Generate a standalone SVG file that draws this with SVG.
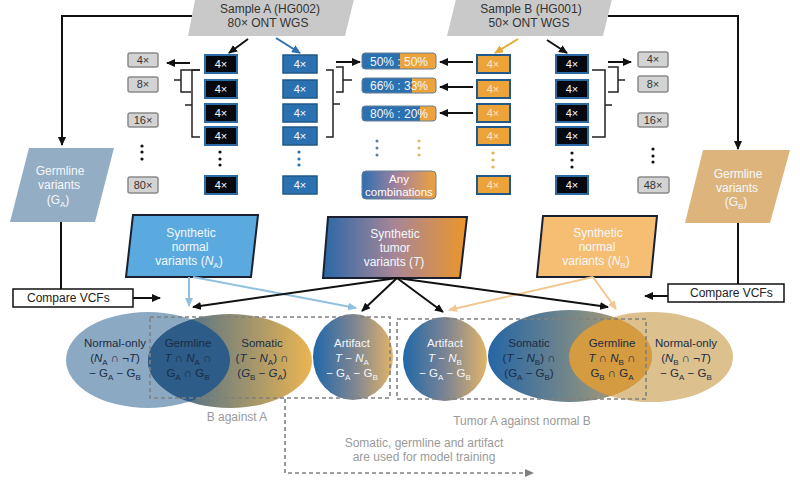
<svg xmlns="http://www.w3.org/2000/svg" width="800" height="480" viewBox="0 0 800 480">
<defs>
<style>
text{font-family:"Liberation Sans",Arial,sans-serif;}
.t12{font-size:12px;fill:#333;text-anchor:middle;}
.bx{font-size:11px;text-anchor:middle;}
.gray{fill:#d3d3d3;stroke:#8a8a8a;stroke-width:1.5;}
.blk{fill:#05080f;stroke:#2b6aa3;stroke-width:2;}
.blu{fill:#2b70b0;stroke:#1f5888;stroke-width:1.5;}
.org{fill:#eca33a;stroke:#1f5a8a;stroke-width:2;}
.ln{fill:none;stroke:#111;stroke-width:2;}
.br{fill:none;stroke:#222;stroke-width:1.5;}
.dash{fill:none;stroke:#808080;stroke-width:1.6;stroke-dasharray:4 3;}
.lt{font-size:11.5px;text-anchor:middle;fill:#1b2c45;}
.lw{font-size:11.5px;text-anchor:middle;fill:#f4f6fa;}
.wt{font-size:12px;text-anchor:middle;fill:#f4f8fc;}
.gl{font-size:12px;text-anchor:middle;fill:#9a9a9a;}
</style>
<marker id="ak" markerUnits="userSpaceOnUse" markerWidth="9" markerHeight="8" refX="8" refY="4" orient="auto"><path d="M0,0 L9,4 L0,8 z" fill="#111"/></marker>
<marker id="ab" markerUnits="userSpaceOnUse" markerWidth="9" markerHeight="8" refX="8" refY="4" orient="auto"><path d="M0,0 L9,4 L0,8 z" fill="#2b70b0"/></marker>
<marker id="ao" markerUnits="userSpaceOnUse" markerWidth="9" markerHeight="8" refX="8" refY="4" orient="auto"><path d="M0,0 L9,4 L0,8 z" fill="#e8a838"/></marker>
<marker id="alb" markerUnits="userSpaceOnUse" markerWidth="9" markerHeight="8" refX="8" refY="4" orient="auto"><path d="M0,0 L9,4 L0,8 z" fill="#8fc0e0"/></marker>
<marker id="alo" markerUnits="userSpaceOnUse" markerWidth="9" markerHeight="8" refX="8" refY="4" orient="auto"><path d="M0,0 L9,4 L0,8 z" fill="#f0c890"/></marker>
<marker id="ag" markerUnits="userSpaceOnUse" markerWidth="9" markerHeight="8" refX="8" refY="4" orient="auto"><path d="M0,0 L9,4 L0,8 z" fill="#808080"/></marker>
<linearGradient id="gT" x1="0" y1="0" x2="1" y2="0"><stop offset="0" stop-color="#2a68a8"/><stop offset="0.5" stop-color="#a88696"/><stop offset="1" stop-color="#ec9628"/></linearGradient>
<linearGradient id="gAny" x1="0" y1="0" x2="1" y2="0"><stop offset="0" stop-color="#2e6eb0"/><stop offset="0.5" stop-color="#a8849a"/><stop offset="1" stop-color="#eea23a"/></linearGradient>
<linearGradient id="gSomA" x1="0" y1="0" x2="1" y2="0"><stop offset="0" stop-color="#2a5f92"/><stop offset="0.5" stop-color="#8a8a74"/><stop offset="1" stop-color="#ebb552"/></linearGradient>
<linearGradient id="gArt" x1="0" y1="0" x2="1" y2="0"><stop offset="0" stop-color="#1f68a8"/><stop offset="0.5" stop-color="#7a8494"/><stop offset="1" stop-color="#e2b468"/></linearGradient>
<linearGradient id="gSomB" x1="0" y1="0" x2="1" y2="0"><stop offset="0" stop-color="#2566a6"/><stop offset="0.55" stop-color="#7c8a86"/><stop offset="1" stop-color="#c9a66c"/></linearGradient>
<clipPath id="cA"><ellipse cx="148" cy="360" rx="82" ry="48"/></clipPath>
<clipPath id="cB"><ellipse cx="651" cy="357" rx="82" ry="45"/></clipPath>
</defs>
<rect width="800" height="480" fill="#fff"/>

<g id="sampleA"><polygon points="196,-5 355,-5 345,36 188,36" fill="#c9c9c9"/>
<text class="t12" x="270" y="13">Sample A (HG002)</text><text class="t12" x="268" y="27">80× ONT WGS</text></g>
<g id="sampleB"><polygon points="457,-5 613,-5 603,36 447,36" fill="#c9c9c9"/>
<text class="t12" x="531" y="13">Sample B (HG001)</text><text class="t12" x="529" y="27">50× ONT WGS</text></g>

<g id="germA"><polygon points="29,148 114,148 95,222 10,222" fill="#93adc4"/>
<text class="wt" x="60" y="175">Germline</text><text class="wt" x="59" y="189">variants</text>
<text class="wt" x="58" y="204">(G<tspan font-size="8" dy="3">A</tspan><tspan dy="-3">)</tspan></text></g>
<g id="germB"><polygon points="703,150 790,150 770,223 685,223" fill="#ddb57c"/>
<text class="wt" x="738" y="178">Germline</text><text class="wt" x="737" y="192">variants</text>
<text class="wt" x="736" y="206">(G<tspan font-size="8" dy="3">B</tspan><tspan dy="-3">)</tspan></text></g>

<g id="cmpA"><rect x="13" y="289" width="120" height="18" fill="#fff" stroke="#111" stroke-width="1.5"/>
<text x="27" y="302" font-size="12" fill="#222">Compare VCFs</text></g>
<g id="cmpB"><rect x="668" y="284" width="116" height="18" fill="#fff" stroke="#111" stroke-width="1.5"/>
<text x="690" y="297" font-size="12" fill="#222">Compare VCFs</text></g>

<g id="grayA">
<rect class="gray" x="128" y="53" width="30" height="14" rx="2"/><text class="bx" x="143" y="64" fill="#333">4×</text>
<rect class="gray" x="128" y="77" width="30" height="15" rx="2"/><text class="bx" x="143" y="88" fill="#333">8×</text>
<rect class="gray" x="128" y="113" width="30" height="14" rx="2"/><text class="bx" x="143" y="124" fill="#333">16×</text>
<rect class="gray" x="128" y="177" width="30" height="16" rx="2"/><text class="bx" x="143" y="189" fill="#333">80×</text>
<g fill="#111"><circle cx="142" cy="146" r="1.6"/><circle cx="142" cy="152" r="1.6"/><circle cx="142" cy="159" r="1.6"/></g></g>

<g id="blackA">
<rect class="blk" x="205" y="55" width="32" height="18"/><text class="bx" x="221" y="68" fill="#fff">4×</text>
<rect class="blk" x="205" y="80" width="32" height="18"/><text class="bx" x="221" y="93" fill="#fff">4×</text>
<rect class="blk" x="205" y="104" width="32" height="18"/><text class="bx" x="221" y="117" fill="#fff">4×</text>
<rect class="blk" x="205" y="127" width="32" height="18"/><text class="bx" x="221" y="140" fill="#fff">4×</text>
<rect class="blk" x="205" y="176" width="32" height="18"/><text class="bx" x="221" y="189" fill="#fff">4×</text>
<g fill="#111"><circle cx="220" cy="152" r="1.6"/><circle cx="220" cy="159" r="1.6"/><circle cx="220" cy="165" r="1.6"/></g></g>

<g id="blueA">
<rect class="blu" x="283" y="55" width="34" height="18"/><text class="bx" x="300" y="68" fill="#fff">4×</text>
<rect class="blu" x="283" y="80" width="34" height="18"/><text class="bx" x="300" y="93" fill="#fff">4×</text>
<rect class="blu" x="283" y="104" width="34" height="18"/><text class="bx" x="300" y="117" fill="#fff">4×</text>
<rect class="blu" x="283" y="127" width="34" height="18"/><text class="bx" x="300" y="140" fill="#fff">4×</text>
<rect class="blu" x="283" y="176" width="34" height="18"/><text class="bx" x="300" y="189" fill="#fff">4×</text>
<g fill="#2b70b0"><circle cx="299" cy="152" r="1.6"/><circle cx="299" cy="159" r="1.6"/><circle cx="299" cy="165" r="1.6"/></g></g>

<g id="ratios">
<rect x="362" y="53" width="74" height="16" rx="3" fill="#eca33a"/><path d="M365,53 H400 V69 H365 a3,3 0 0 1 -3,-3 V56 a3,3 0 0 1 3,-3z" fill="#2b70b0"/>
<rect x="362" y="53" width="74" height="16" rx="3" fill="none" stroke="#6a7f95" stroke-width="1"/>
<text x="399" y="66" font-size="12" text-anchor="middle" fill="#f2f6fb">50% : 50%</text>
<rect x="362" y="78" width="74" height="15" rx="3" fill="#eca33a"/><path d="M365,78 H412 V93 H365 a3,3 0 0 1 -3,-3 V81 a3,3 0 0 1 3,-3z" fill="#2b70b0"/>
<rect x="362" y="78" width="74" height="15" rx="3" fill="none" stroke="#6a7f95" stroke-width="1"/>
<text x="399" y="90" font-size="12" text-anchor="middle" fill="#f2f6fb">66% : 33%</text>
<rect x="362" y="106" width="74" height="15" rx="3" fill="#eca33a"/><path d="M365,106 H420 V121 H365 a3,3 0 0 1 -3,-3 V109 a3,3 0 0 1 3,-3z" fill="#2b70b0"/>
<rect x="362" y="106" width="74" height="15" rx="3" fill="none" stroke="#6a7f95" stroke-width="1"/>
<text x="399" y="118" font-size="12" text-anchor="middle" fill="#f2f6fb">80% : 20%</text>
<g fill="#5a7ea0"><circle cx="377" cy="141" r="1.5"/><circle cx="377" cy="148" r="1.5"/><circle cx="377" cy="155" r="1.5"/></g>
<g fill="#e2b45e"><circle cx="419" cy="141" r="1.5"/><circle cx="419" cy="148" r="1.5"/><circle cx="419" cy="155" r="1.5"/></g>
<rect x="362" y="171" width="74" height="28" rx="4" fill="url(#gAny)" stroke="#6a7f95" stroke-width="1"/>
<text x="399" y="183" font-size="11.5" text-anchor="middle" fill="#fff">Any</text>
<text x="399" y="196" font-size="11.5" text-anchor="middle" fill="#fff">combinations</text></g>

<g id="orangeB">
<rect class="org" x="477" y="55" width="33" height="18"/><text class="bx" x="493" y="68" fill="#fde6c4">4×</text>
<rect class="org" x="477" y="80" width="33" height="18"/><text class="bx" x="493" y="93" fill="#fde6c4">4×</text>
<rect class="org" x="477" y="104" width="33" height="18"/><text class="bx" x="493" y="117" fill="#fde6c4">4×</text>
<rect class="org" x="477" y="127" width="33" height="18"/><text class="bx" x="493" y="140" fill="#fde6c4">4×</text>
<rect class="org" x="477" y="176" width="33" height="18"/><text class="bx" x="493" y="189" fill="#fde6c4">4×</text>
<g fill="#e8b04e"><circle cx="493" cy="153" r="1.6"/><circle cx="493" cy="160" r="1.6"/><circle cx="493" cy="167" r="1.6"/></g></g>

<g id="blackB">
<rect class="blk" x="556" y="55" width="32" height="18"/><text class="bx" x="572" y="68" fill="#fff">4×</text>
<rect class="blk" x="556" y="80" width="32" height="18"/><text class="bx" x="572" y="93" fill="#fff">4×</text>
<rect class="blk" x="556" y="104" width="32" height="18"/><text class="bx" x="572" y="117" fill="#fff">4×</text>
<rect class="blk" x="556" y="127" width="32" height="18"/><text class="bx" x="572" y="140" fill="#fff">4×</text>
<rect class="blk" x="556" y="176" width="32" height="18"/><text class="bx" x="572" y="189" fill="#fff">4×</text>
<g fill="#111"><circle cx="572" cy="153" r="1.6"/><circle cx="572" cy="160" r="1.6"/><circle cx="572" cy="167" r="1.6"/></g></g>

<g id="grayB">
<rect class="gray" x="638" y="52" width="30" height="15" rx="2"/><text class="bx" x="653" y="63" fill="#333">4×</text>
<rect class="gray" x="638" y="76" width="30" height="16" rx="2"/><text class="bx" x="653" y="88" fill="#333">8×</text>
<rect class="gray" x="638" y="113" width="30" height="14" rx="2"/><text class="bx" x="653" y="124" fill="#333">16×</text>
<rect class="gray" x="638" y="177" width="31" height="16" rx="2"/><text class="bx" x="653" y="189" fill="#333">48×</text>
<g fill="#111"><circle cx="653" cy="149" r="1.6"/><circle cx="653" cy="156" r="1.6"/><circle cx="653" cy="162" r="1.6"/></g></g>

<g id="synNA"><polygon points="133,215 258,215 251,277 126,277" fill="#5aaae0" stroke="#1a2030" stroke-width="2"/>
<text class="wt" x="191" y="237">Synthetic</text><text class="wt" x="190" y="251">normal</text>
<text class="wt" x="189" y="265">variants (<tspan font-style="italic">N</tspan><tspan font-size="8" dy="3">A</tspan><tspan dy="-3">)</tspan></text></g>
<g id="synT"><polygon points="328,217 467,217 460,278 323,278" fill="url(#gT)" stroke="#1a2030" stroke-width="2"/>
<text class="wt" x="395" y="238">Synthetic</text><text class="wt" x="395" y="252">tumor</text>
<text class="wt" x="394" y="266">variants (<tspan font-style="italic">T</tspan>)</text></g>
<g id="synNB"><polygon points="543,216 657,216 651,277 537,277" fill="#f6be72" stroke="#1a2030" stroke-width="2"/>
<text class="wt" x="598" y="237">Synthetic</text><text class="wt" x="597" y="251">normal</text>
<text class="wt" x="596" y="265">variants (<tspan font-style="italic">N</tspan><tspan font-size="8" dy="3">B</tspan><tspan dy="-3">)</tspan></text></g>

<g id="vennA">
<ellipse cx="148" cy="360" rx="82" ry="48" fill="#8ba9c2"/>
<ellipse cx="230" cy="361" rx="82" ry="47" fill="url(#gSomA)"/>
<ellipse cx="230" cy="361" rx="82" ry="47" fill="#2c5c87" clip-path="url(#cA)"/>
<ellipse cx="353" cy="357" rx="40" ry="43" fill="url(#gArt)"/>
<text class="lt" x="115" y="347">Normal-only</text>
<text class="lt" x="115" y="362">(<tspan font-style="italic">N</tspan><tspan font-size="8" dy="3">A</tspan><tspan dy="-3"> ∩ ¬</tspan><tspan font-style="italic">T</tspan>)</text>
<text class="lt" x="115" y="377">− G<tspan font-size="8" dy="3">A</tspan><tspan dy="-3"> − G</tspan><tspan font-size="8" dy="3">B</tspan></text>
<text class="lt" x="188" y="347">Germline</text>
<text class="lt" x="188" y="362"><tspan font-style="italic">T</tspan> ∩ <tspan font-style="italic">N</tspan><tspan font-size="8" dy="3">A</tspan><tspan dy="-3"> ∩</tspan></text>
<text class="lt" x="188" y="377">G<tspan font-size="8" dy="3">A</tspan><tspan dy="-3"> ∩ G</tspan><tspan font-size="8" dy="3">B</tspan></text>
<text class="lt" x="262" y="347">Somatic</text>
<text class="lt" x="262" y="362">(<tspan font-style="italic">T</tspan> − <tspan font-style="italic">N</tspan><tspan font-size="8" dy="3">A</tspan><tspan dy="-3">) ∩</tspan></text>
<text class="lt" x="262" y="377">(<tspan font-style="italic">G</tspan><tspan font-size="8" dy="3">B</tspan><tspan dy="-3"> − </tspan><tspan font-style="italic">G</tspan><tspan font-size="8" dy="3">A</tspan><tspan dy="-3">)</tspan></text>
<text class="lw" x="352" y="347">Artifact</text>
<text class="lw" x="352" y="362"><tspan font-style="italic">T</tspan> − <tspan font-style="italic">N</tspan><tspan font-size="8" dy="3">A</tspan></text>
<text class="lw" x="352" y="377">− G<tspan font-size="8" dy="3">A</tspan><tspan dy="-3"> − G</tspan><tspan font-size="8" dy="3">B</tspan></text>
</g>

<g id="vennB">
<ellipse cx="445" cy="359" rx="42" ry="42" fill="url(#gArt)"/>
<ellipse cx="651" cy="357" rx="82" ry="45" fill="#dcc08e"/>
<ellipse cx="570" cy="356" rx="82" ry="46" fill="url(#gSomB)"/>
<ellipse cx="570" cy="356" rx="82" ry="46" fill="#d49b40" clip-path="url(#cB)"/>
<text class="lw" x="445" y="347">Artifact</text>
<text class="lw" x="445" y="362"><tspan font-style="italic">T</tspan> − <tspan font-style="italic">N</tspan><tspan font-size="8" dy="3">B</tspan></text>
<text class="lw" x="445" y="377">− G<tspan font-size="8" dy="3">A</tspan><tspan dy="-3"> − G</tspan><tspan font-size="8" dy="3">B</tspan></text>
<text class="lt" x="529" y="347">Somatic</text>
<text class="lt" x="529" y="362">(<tspan font-style="italic">T</tspan> − <tspan font-style="italic">N</tspan><tspan font-size="8" dy="3">B</tspan><tspan dy="-3">) ∩</tspan></text>
<text class="lt" x="529" y="377">(G<tspan font-size="8" dy="3">A</tspan><tspan dy="-3"> − G</tspan><tspan font-size="8" dy="3">B</tspan><tspan dy="-3">)</tspan></text>
<text class="lt" x="612" y="347">Germline</text>
<text class="lt" x="612" y="362"><tspan font-style="italic">T</tspan> ∩ <tspan font-style="italic">N</tspan><tspan font-size="8" dy="3">B</tspan><tspan dy="-3"> ∩</tspan></text>
<text class="lt" x="612" y="377">G<tspan font-size="8" dy="3">B</tspan><tspan dy="-3"> ∩ G</tspan><tspan font-size="8" dy="3">A</tspan></text>
<text class="lt" x="686" y="347">Normal-only</text>
<text class="lt" x="686" y="362">(<tspan font-style="italic">N</tspan><tspan font-size="8" dy="3">B</tspan><tspan dy="-3"> ∩ ¬</tspan><tspan font-style="italic">T</tspan>)</text>
<text class="lt" x="686" y="377">− G<tspan font-size="8" dy="3">A</tspan><tspan dy="-3"> − G</tspan><tspan font-size="8" dy="3">B</tspan></text>
</g>

<g id="groupLabels">
<text class="gl" x="237" y="421">B against A</text>
<text class="gl" x="522" y="425">Tumor A against normal B</text>
<text class="gl" x="424" y="447">Somatic, germline and artifact</text>
<text class="gl" x="424" y="461">are used for model training</text>
</g>

<g id="connectors">
<path class="ln" d="M192,16 H62 V145" marker-end="url(#ak)"/>
<path class="ln" d="M608,16 H738 V149" marker-end="url(#ak)"/>
<path class="ln" d="M61,222 V289"/>
<path class="ln" d="M738,223 V284"/>
<path class="ln" d="M133,298 H160" marker-end="url(#ak)"/>
<path class="ln" d="M668,296 H645" marker-end="url(#ak)"/>
<path class="ln" d="M248,39 L229,53" marker-end="url(#ak)"/>
<path d="M276,38 L300,53" stroke="#2b70b0" stroke-width="2" fill="none" marker-end="url(#ab)"/>
<path d="M518,39 L495,53" stroke="#e8a838" stroke-width="2" fill="none" marker-end="url(#ao)"/>
<path class="ln" d="M547,40 L567,53" marker-end="url(#ak)"/>
<path class="ln" d="M190,63 H167" marker-end="url(#ak)"/>
<path class="ln" d="M336,62 H360" marker-end="url(#ak)"/>
<path class="ln" d="M473,62 H440" marker-end="url(#ak)"/>
<path class="ln" d="M473,87 H440" marker-end="url(#ak)"/>
<path class="ln" d="M473,113 H440" marker-end="url(#ak)"/>
<path class="ln" d="M608,62 H631" marker-end="url(#ak)"/>
<path class="br" d="M200,70 H181 V92 H191 M181,80 H174"/>
<path class="br" d="M200,70 H192 V137 H200 M192,105 H185"/>
<path class="br" d="M326,70 H333 V137 H326 M333,104 H340"/>
<path class="br" d="M336,67 H343 V92 H336 M343,80 H352"/>
<path class="br" d="M592,70 H605 V137 H592 M605,105 H612"/>
<path class="br" d="M608,67 H618 V92 H608 M618,80 H625"/>
<path d="M189,277 V306" stroke="#8fc0e0" stroke-width="2" fill="none" marker-end="url(#alb)"/>
<path d="M193,277 L356,308" stroke="#8fc0e0" stroke-width="2" fill="none" marker-end="url(#alb)"/>
<path d="M593,277 L449,310" stroke="#f0c890" stroke-width="2" fill="none" marker-end="url(#alo)"/>
<path d="M593,277 L616,309" stroke="#f0c890" stroke-width="2" fill="none" marker-end="url(#alo)"/>
<path class="ln" d="M397,278 L193,307" marker-end="url(#ak)"/>
<path class="ln" d="M397,278 L362,311" marker-end="url(#ak)"/>
<path class="ln" d="M397,278 L443,312" marker-end="url(#ak)"/>
<path class="ln" d="M397,278 L608,307" marker-end="url(#ak)"/>
<path class="dash" d="M150,317 H390 V398 H150 Z"/>
<path class="dash" d="M397,319 H646 V399 H397 Z"/>
<path class="dash" d="M285,399 V473 H533" marker-end="url(#ag)"/>
</g>
</svg>
